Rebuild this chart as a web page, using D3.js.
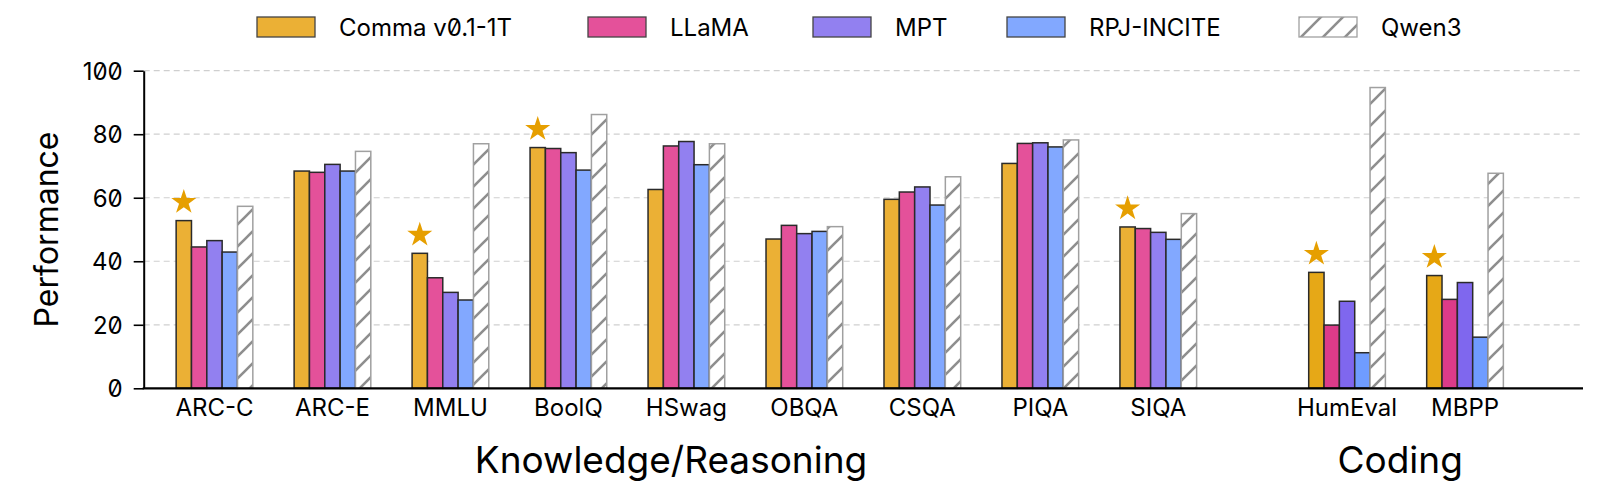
<!DOCTYPE html>
<html>
<head>
<meta charset="utf-8">
<script src="https://cdn.jsdelivr.net/npm/d3@7"></script>
<style>
  body { margin: 0; background: #fff; }
  svg text { font-family: Inter, "Noto Sans", sans-serif; font-feature-settings: "zero" 1; fill: #000; }
</style>
</head>
<body>
<div id="chart"></div>
<script>
const categories = ["ARC-C", "ARC-E", "MMLU", "BoolQ", "HSwag", "OBQA", "CSQA", "PIQA", "SIQA", "HumEval", "MBPP"];
const codingCategories = ["HumEval", "MBPP"];
const models = ["Comma v0.1-1T", "LLaMA", "MPT", "RPJ-INCITE", "Qwen3"];

const comma = [52.8, 68.4, 42.5, 75.8, 62.6, 47.0, 59.5, 70.8, 50.8, 36.5, 35.5];
const llama = [44.5, 68.0, 34.8, 75.5, 76.3, 51.3, 61.8, 77.1, 50.3, 19.9, 28.0];
const mpt   = [46.5, 70.5, 30.2, 74.2, 77.7, 48.7, 63.4, 77.3, 49.1, 27.4, 33.3];
const rpj   = [42.9, 68.4, 27.8, 68.7, 70.4, 49.4, 57.7, 76.0, 46.9, 11.2, 16.1];
const qwen  = [57.3, 74.6, 77.0, 86.2, 77.0, 50.9, 66.6, 78.2, 55.0, 94.7, 67.7];
const seriesValues = [comma, llama, mpt, rpj, qwen];

// Comma is marked with a star where it beats the other open models
const starred = ["ARC-C", "MMLU", "BoolQ", "SIQA", "HumEval", "MBPP"];

const yTicks = [0, 20, 40, 60, 80, 100];
const groupTitles = ["Knowledge/Reasoning", "Coding"];

const knowledgeColors = ["#ebb035", "#e4519a", "#9280f0", "#82a8ff", "#fff"];
const codingColors    = ["#e6a817", "#dc3b89", "#7f67ee", "#6f9cff", "#fff"];

const width = 1600, height = 498;
const svg = d3.select("#chart").append("svg")
    .attr("width", width)
    .attr("height", height);

// group position on the category axis (coding block is set off by an extra gap)
const groupPos = c => {
    const i = categories.indexOf(c);
    return codingCategories.includes(c) ? i + 0.6 : i;
};

const x = d3.scaleLinear().domain([-0.6, 11.6]).range([143.7, 1583]);
const xInner = d3.scaleBand().domain(models).range([-0.325, 0.325]);
const y = d3.scaleLinear().domain([0, 100]).range([388.3, 70.7]);

const defs = svg.append("defs");
const hatch = defs.append("pattern")
    .attr("id", "hatch")
    .attr("patternUnits", "userSpaceOnUse")
    .attr("width", 22)
    .attr("height", 22);
hatch.append("rect").attr("width", 22).attr("height", 22).attr("fill", "#fff");
hatch.append("path")
    .attr("d", "M-11,11 L11,-11 M0,22 L22,0 M11,33 L33,11")
    .attr("stroke", "#8e8e8e")
    .attr("stroke-width", 2.6);

// grid
svg.append("g")
    .selectAll("line")
    .data(yTicks.filter(t => t > 0))
    .enter().append("line")
    .attr("x1", x(-0.6))
    .attr("x2", x(11.6))
    .attr("y1", d => y(d))
    .attr("y2", d => y(d))
    .attr("stroke", "#cfcfcf")
    .attr("stroke-width", 1.2)
    .attr("stroke-dasharray", "6,4");

// bars
const rows = categories.map((c, i) => ({
    cat: c,
    coding: codingCategories.includes(c),
    vals: models.map((m, j) => ({model: m, j: j, value: seriesValues[j][i]}))
}));

const groups = svg.selectAll(".grp")
    .data(rows)
    .enter().append("g")
    .attr("class", "grp");

groups.selectAll("rect")
    .data(d => d.vals.map(v => Object.assign({cat: d.cat, coding: d.coding}, v)))
    .enter().append("rect")
    .attr("x", d => x(groupPos(d.cat) + xInner(d.model)))
    .attr("y", d => y(d.value))
    .attr("width", d => x(groupPos(d.cat) + xInner(d.model) + xInner.bandwidth()) - x(groupPos(d.cat) + xInner(d.model)))
    .attr("height", d => y(0) - y(d.value))
    .attr("fill", d => d.model === "Qwen3" ? "url(#hatch)" : (d.coding ? codingColors : knowledgeColors)[d.j])
    .attr("stroke", d => d.model === "Qwen3" ? "#a0a0a0" : "#2a2a2a")
    .attr("stroke-width", 1.5);

// stars
const star = d3.symbol().type(d3.symbolStar).size(195);
svg.append("g")
    .selectAll("path")
    .data(starred)
    .enter().append("path")
    .attr("d", star)
    .attr("fill", "#e69f00")
    .attr("transform", c => {
        const cx = x(groupPos(c) + xInner(models[0]) + xInner.bandwidth() / 2);
        const cy = y(comma[categories.indexOf(c)] + 5.8);
        return `translate(${cx},${cy})`;
    });

// axes
const yAxis = svg.append("g")
    .attr("transform", `translate(${x(-0.6)},0)`)
    .call(d3.axisLeft(y).tickValues(yTicks).tickSize(10).tickSizeOuter(0).tickPadding(11));
yAxis.select(".domain").attr("stroke", "#000").attr("stroke-width", 2);
yAxis.selectAll(".tick line").attr("stroke", "#000").attr("stroke-width", 1.6);
yAxis.selectAll(".tick text").style("font-size", "24px").attr("dy", "0.36em");

svg.append("line")
    .attr("x1", x(-0.6) - 1)
    .attr("x2", x(11.6))
    .attr("y1", y(0))
    .attr("y2", y(0))
    .attr("stroke", "#000")
    .attr("stroke-width", 2.2);

svg.append("g")
    .selectAll("text")
    .data(categories)
    .enter().append("text")
    .attr("x", c => x(groupPos(c)))
    .attr("y", 416)
    .attr("text-anchor", "middle")
    .style("font-size", "24px")
    .text(c => c);

svg.append("g")
    .selectAll("text")
    .data(groupTitles)
    .enter().append("text")
    .attr("x", (d, i) => x(i === 0 ? 3.87 : 10.05))
    .attr("y", 473)
    .attr("text-anchor", "middle")
    .style("font-size", "37px")
    .text(d => d);

svg.append("text")
    .attr("transform", `translate(58,${(y(0) + y(100)) / 2}) rotate(-90)`)
    .attr("text-anchor", "middle")
    .style("font-size", "32px")
    .text("Performance");

// legend
const legendX = [257, 588, 813, 1007, 1299];
const legend = svg.selectAll(".legend")
    .data(models)
    .enter().append("g")
    .attr("class", "legend")
    .attr("transform", (d, i) => `translate(${legendX[i]},17)`);

legend.append("rect")
    .attr("width", 58)
    .attr("height", 20)
    .attr("fill", (d, i) => d === "Qwen3" ? "url(#hatch)" : knowledgeColors[i])
    .attr("stroke", d => d === "Qwen3" ? "#a0a0a0" : "#444")
    .attr("stroke-width", 1.3);

legend.append("text")
    .attr("x", 82)
    .attr("y", 19)
    .style("font-size", "24px")
    .text(d => d);
</script>
</body>
</html>
